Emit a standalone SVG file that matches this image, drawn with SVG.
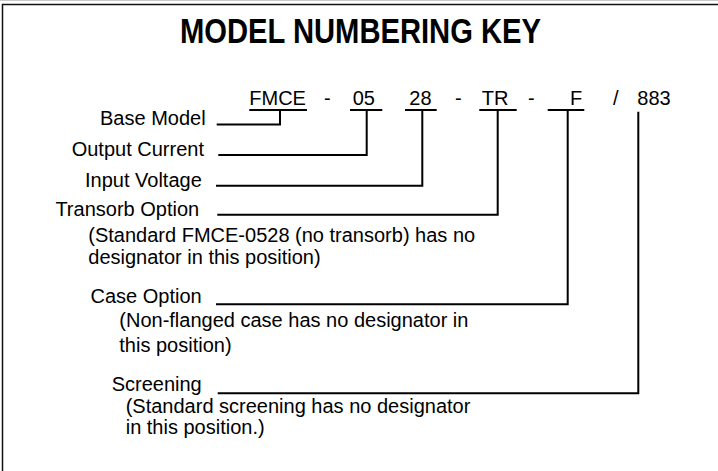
<svg xmlns="http://www.w3.org/2000/svg" width="718" height="471" viewBox="0 0 718 471">
<style>
text{font-family:"Liberation Sans",Arial,sans-serif;font-size:20px;fill:#000}
.title{font-weight:bold;font-size:35px}
.ln{stroke:#000;stroke-width:2;fill:none}
</style>
<rect width="718" height="471" fill="#fff"/>
<g id="frame">
<line x1="0" y1="0.5" x2="718" y2="0.5" stroke="#c8c8c8" stroke-width="1"/>
<path d="M2.5,471 V4.5 H718" stroke="#111" stroke-width="1.5" fill="none"/>
</g>
<g id="title"><text class="title" x="180" y="43" textLength="361" lengthAdjust="spacingAndGlyphs">MODEL NUMBERING KEY</text></g>
<g id="code">
<text x="249.3" y="105">FMCE</text>
<text x="324" y="105">-</text>
<text x="352.7" y="105">05</text>
<text x="409.3" y="105">28</text>
<text x="455" y="105">-</text>
<text x="481.7" y="105">TR</text>
<text x="528" y="105">-</text>
<text x="570" y="105">F</text>
<text x="613" y="105">/</text>
<text x="637.3" y="105">883</text>
</g>
<g id="base-model"><text x="100" y="125">Base Model</text></g>
<g id="output-current"><text x="71.7" y="156">Output Current</text></g>
<g id="input-voltage"><text x="85" y="186.5">Input Voltage</text></g>
<g id="transorb-option"><text x="55.4" y="216">Transorb Option</text>
<text x="88.3" y="241.7">(Standard FMCE-0528 (no transorb) has no</text>
<text x="88.3" y="263.5">designator in this position)</text></g>
<g id="case-option"><text x="90.5" y="303.3">Case Option</text>
<text x="119.3" y="327">(Non-flanged case has no designator in</text>
<text x="119.3" y="351.5">this position)</text></g>
<g id="screening"><text x="111.7" y="391">Screening</text>
<text x="125.7" y="412.5">(Standard screening has no designator</text>
<text x="125.7" y="434">in this position.)</text></g>
<g id="connectors" class="ln">
<path d="M249.3,110 H307 M280,110 V124.5 H216.7"/>
<path d="M350,110 H382.3 M366.7,110 V155 H218.3"/>
<path d="M405,110 H436.7 M422.3,110 V185.7 H216"/>
<path d="M479.3,110 H516.7 M497.7,110 V214.7 H217.3"/>
<path d="M547.7,110 H584.3 M567.7,110 V304.3 H216"/>
<path d="M638.3,111.7 V393.3 H217.7"/>
</g>
</svg>
